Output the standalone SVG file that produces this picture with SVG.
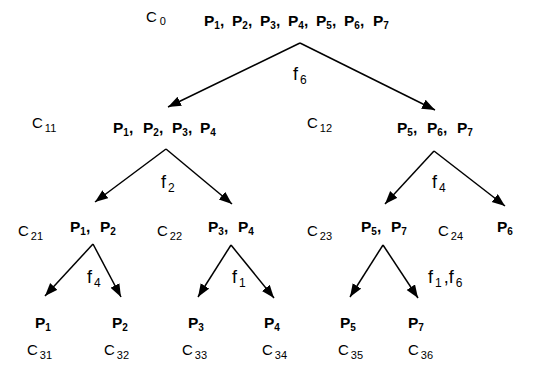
<svg xmlns="http://www.w3.org/2000/svg" width="540" height="367" viewBox="0 0 540 367">
<style>
text{font-family:"Liberation Sans",Arial,Helvetica,sans-serif;fill:#000}
.p{font-size:15.5px;font-weight:bold}
.ps{font-size:10px;font-weight:bold}
.c{font-size:15px}
.cs{font-size:11px}
.f{font-size:18px}
.fs{font-size:12px}
.e{stroke:#000;stroke-width:1.5;fill:none;marker-end:url(#ah)}
</style>
<defs>
<marker id="ah" markerUnits="userSpaceOnUse" markerWidth="14" markerHeight="11" refX="13" refY="5" orient="auto">
<path d="M0,0 L13,5 L0,10 z" fill="#000"/>
</marker>
</defs>
<rect width="540" height="367" fill="#fff"/>
<g id="connectors">
<path class="e" d="M300,43 L168,107"/>
<path class="e" d="M300,43 L435,110"/>
<path class="e" d="M166,149 L95,202"/>
<path class="e" d="M166,149 L232,204"/>
<path class="e" d="M434,151 L385,204"/>
<path class="e" d="M434,151 L505,206"/>
<path class="e" d="M93,244 L45,296"/>
<path class="e" d="M93,244 L121,297"/>
<path class="e" d="M231,245 L198,297"/>
<path class="e" d="M231,245 L274,298"/>
<path class="e" d="M383,245 L350,297"/>
<path class="e" d="M383,245 L418,298"/>
</g>
<g id="edge-labels">
<text class="f" x="293" y="80">f<tspan class="fs" dx="2" dy="4">6</tspan></text>
<text class="f" x="161" y="188">f<tspan class="fs" dx="2" dy="4">2</tspan></text>
<text class="f" x="432" y="188">f<tspan class="fs" dx="2" dy="4">4</tspan></text>
<text class="f" x="87" y="283">f<tspan class="fs" dx="2" dy="4">4</tspan></text>
<text class="f" x="232" y="283">f<tspan class="fs" dx="2" dy="4">1</tspan></text>
<text class="f" x="428" y="283">f<tspan class="fs" dx="2" dy="4">1</tspan><tspan dx="2" dy="-4">,f</tspan><tspan class="fs" dx="2" dy="4">6</tspan></text>
</g>
<g id="C0">
<text class="c" x="146" y="22">C<tspan class="cs" dx="3" dy="3">0</tspan></text>
<text class="p" y="26"><tspan x="204">P</tspan><tspan class="ps" dy="3">1</tspan><tspan dy="-3">,</tspan><tspan x="232">P</tspan><tspan class="ps" dy="3">2</tspan><tspan dy="-3">,</tspan><tspan x="260">P</tspan><tspan class="ps" dy="3">3</tspan><tspan dy="-3">,</tspan><tspan x="288">P</tspan><tspan class="ps" dy="3">4</tspan><tspan dy="-3">,</tspan><tspan x="316">P</tspan><tspan class="ps" dy="3">5</tspan><tspan dy="-3">,</tspan><tspan x="344">P</tspan><tspan class="ps" dy="3">6</tspan><tspan dy="-3">,</tspan><tspan x="373">P</tspan><tspan class="ps" dy="3">7</tspan></text>
</g>
<g id="C11">
<text class="c" x="32" y="128">C<tspan class="cs" dx="2" dy="4">11</tspan></text>
<text class="p" y="133"><tspan x="113">P</tspan><tspan class="ps" dy="3">1</tspan><tspan dy="-3">,</tspan><tspan x="143">P</tspan><tspan class="ps" dy="3">2</tspan><tspan dy="-3">,</tspan><tspan x="172">P</tspan><tspan class="ps" dy="3">3</tspan><tspan dy="-3">,</tspan><tspan x="200">P</tspan><tspan class="ps" dy="3">4</tspan></text>
</g>
<g id="C12">
<text class="c" x="307" y="128">C<tspan class="cs" dx="2" dy="4">12</tspan></text>
<text class="p" y="133"><tspan x="397">P</tspan><tspan class="ps" dy="3">5</tspan><tspan dy="-3">,</tspan><tspan x="427">P</tspan><tspan class="ps" dy="3">6</tspan><tspan dy="-3">,</tspan><tspan x="457">P</tspan><tspan class="ps" dy="3">7</tspan></text>
</g>
<g id="C21">
<text class="c" x="18" y="236">C<tspan class="cs" dx="2" dy="4">21</tspan></text>
<text class="p" y="232"><tspan x="70">P</tspan><tspan class="ps" dy="3">1</tspan><tspan dy="-3">,</tspan><tspan x="100">P</tspan><tspan class="ps" dy="3">2</tspan></text>
</g>
<g id="C22">
<text class="c" x="157" y="236">C<tspan class="cs" dx="2" dy="4">22</tspan></text>
<text class="p" y="232"><tspan x="208">P</tspan><tspan class="ps" dy="3">3</tspan><tspan dy="-3">,</tspan><tspan x="238">P</tspan><tspan class="ps" dy="3">4</tspan></text>
</g>
<g id="C23">
<text class="c" x="307" y="236">C<tspan class="cs" dx="2" dy="4">23</tspan></text>
<text class="p" y="232"><tspan x="361">P</tspan><tspan class="ps" dy="3">5</tspan><tspan dy="-3">,</tspan><tspan x="391">P</tspan><tspan class="ps" dy="3">7</tspan></text>
</g>
<g id="C24">
<text class="c" x="438" y="236">C<tspan class="cs" dx="2" dy="4">24</tspan></text>
<text class="p" x="497" y="232">P<tspan class="ps" dy="3">6</tspan></text>
</g>
<g id="C31">
<text class="p" x="35" y="328">P<tspan class="ps" dy="3">1</tspan></text>
<text class="c" x="27" y="355">C<tspan class="cs" dx="2" dy="4">31</tspan></text>
</g>
<g id="C32">
<text class="p" x="112" y="328">P<tspan class="ps" dy="3">2</tspan></text>
<text class="c" x="104" y="355">C<tspan class="cs" dx="2" dy="4">32</tspan></text>
</g>
<g id="C33">
<text class="p" x="188" y="328">P<tspan class="ps" dy="3">3</tspan></text>
<text class="c" x="182" y="355">C<tspan class="cs" dx="2" dy="4">33</tspan></text>
</g>
<g id="C34">
<text class="p" x="264" y="328">P<tspan class="ps" dy="3">4</tspan></text>
<text class="c" x="262" y="355">C<tspan class="cs" dx="2" dy="4">34</tspan></text>
</g>
<g id="C35">
<text class="p" x="340" y="328">P<tspan class="ps" dy="3">5</tspan></text>
<text class="c" x="338" y="355">C<tspan class="cs" dx="2" dy="4">35</tspan></text>
</g>
<g id="C36">
<text class="p" x="408" y="328">P<tspan class="ps" dy="3">7</tspan></text>
<text class="c" x="408" y="355">C<tspan class="cs" dx="2" dy="4">36</tspan></text>
</g>
</svg>
